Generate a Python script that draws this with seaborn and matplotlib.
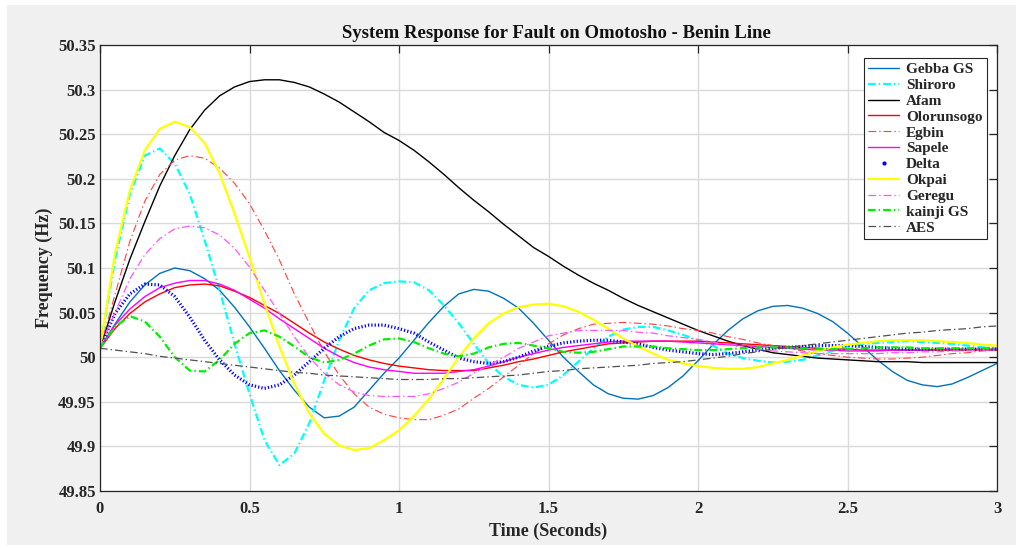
import numpy as np
import pandas as pd
import matplotlib
matplotlib.use("Agg")
import matplotlib.pyplot as plt
from matplotlib.lines import Line2D
from matplotlib.patches import Rectangle
import seaborn as sns

# ---------------- data ----------------
TIME = np.linspace(0.0, 3.0, 61)   # 0.05 s sample grid

GEBBA = [50.010, 50.037, 50.062, 50.081, 50.094, 50.100, 50.097, 50.088, 50.075, 50.056,
         50.034, 50.010, 49.985, 49.963, 49.944, 49.932, 49.934, 49.944, 49.963, 49.982,
         49.999, 50.019, 50.039, 50.057, 50.071, 50.076, 50.074, 50.066, 50.055, 50.038,
         50.019, 50.000, 49.984, 49.969, 49.959, 49.954, 49.953, 49.957, 49.966, 49.979,
         49.996, 50.014, 50.030, 50.043, 50.052, 50.057, 50.058, 50.055, 50.049, 50.040,
         50.027, 50.012, 49.997, 49.984, 49.974, 49.969, 49.967, 49.970, 49.977, 49.985,
         49.993]
SHIRORO = [50.010, 50.109, 50.183, 50.226, 50.234, 50.217, 50.183, 50.131, 50.075, 50.015,
           49.959, 49.907, 49.879, 49.892, 49.926, 49.974, 50.019, 50.055, 50.075, 50.083,
           50.085, 50.084, 50.075, 50.058, 50.038, 50.015, 49.993, 49.978, 49.969, 49.966,
           49.969, 49.980, 49.995, 50.010, 50.023, 50.031, 50.034, 50.034, 50.030, 50.025,
           50.019, 50.013, 50.004, 49.999, 49.996, 49.994, 49.995, 49.997, 50.002, 50.007,
           50.012, 50.015, 50.016, 50.017, 50.018, 50.017, 50.016, 50.015, 50.013, 50.011,
           50.010]
AFAM = [50.010, 50.062, 50.110, 50.152, 50.192, 50.226, 50.255, 50.277, 50.293, 50.303,
        50.309, 50.311, 50.311, 50.308, 50.303, 50.295, 50.286, 50.275, 50.264, 50.252,
        50.243, 50.232, 50.219, 50.205, 50.190, 50.176, 50.163, 50.149, 50.136, 50.123,
        50.113, 50.102, 50.092, 50.083, 50.075, 50.066, 50.058, 50.051, 50.044, 50.037,
        50.030, 50.024, 50.018, 50.013, 50.009, 50.005, 50.003, 50.001, 49.999, 49.998,
        49.997, 49.996, 49.995, 49.995, 49.995, 49.994, 49.994, 49.994, 49.994, 49.994,
        49.994]
OLORUNSOGO = [50.010, 50.032, 50.049, 50.062, 50.071, 50.078, 50.081, 50.082, 50.080, 50.074,
              50.067, 50.058, 50.049, 50.038, 50.027, 50.017, 50.009, 50.002, 49.997, 49.993,
              49.990, 49.988, 49.986, 49.985, 49.985, 49.985, 49.988, 49.991, 49.995, 49.998,
              50.002, 50.006, 50.009, 50.012, 50.015, 50.016, 50.017, 50.018, 50.018, 50.018,
              50.018, 50.017, 50.016, 50.015, 50.014, 50.013, 50.012, 50.011, 50.010, 50.009,
              50.009, 50.008, 50.008, 50.008, 50.008, 50.008, 50.008, 50.008, 50.008, 50.008,
              50.008]
EGBIN = [50.010, 50.070, 50.130, 50.175, 50.205, 50.221, 50.226, 50.223, 50.212, 50.195,
         50.172, 50.142, 50.109, 50.071, 50.038, 50.006, 49.980, 49.959, 49.944, 49.936,
         49.932, 49.930, 49.930, 49.935, 49.942, 49.954, 49.965, 49.978, 49.991, 50.004,
         50.015, 50.025, 50.032, 50.037, 50.038, 50.039, 50.038, 50.037, 50.035, 50.032,
         50.030, 50.027, 50.023, 50.020, 50.016, 50.013, 50.010, 50.007, 50.004, 50.002,
         50.000, 49.999, 49.998, 49.998, 49.999, 50.000, 50.002, 50.004, 50.005, 50.007,
         50.008]
SAPELE = [50.010, 50.036, 50.054, 50.068, 50.078, 50.083, 50.086, 50.086, 50.082, 50.075,
          50.065, 50.055, 50.043, 50.032, 50.021, 50.010, 50.001, 49.994, 49.989, 49.986,
          49.984, 49.982, 49.982, 49.982, 49.984, 49.986, 49.990, 49.995, 50.000, 50.004,
          50.008, 50.011, 50.013, 50.015, 50.017, 50.018, 50.018, 50.018, 50.018, 50.017,
          50.016, 50.015, 50.014, 50.013, 50.012, 50.011, 50.010, 50.009, 50.008, 50.008,
          50.007, 50.007, 50.007, 50.008, 50.008, 50.008, 50.009, 50.009, 50.009, 50.009,
          50.009]
DELTA = [50.010, 50.049, 50.071, 50.082, 50.081, 50.068, 50.045, 50.019, 49.997, 49.980,
         49.969, 49.965, 49.969, 49.980, 49.995, 50.010, 50.023, 50.032, 50.036, 50.036,
         50.032, 50.027, 50.017, 50.008, 49.999, 49.995, 49.993, 49.995, 50.000, 50.007,
         50.012, 50.016, 50.018, 50.019, 50.019, 50.017, 50.015, 50.011, 50.008, 50.006,
         50.004, 50.003, 50.004, 50.006, 50.008, 50.010, 50.011, 50.012, 50.013, 50.013,
         50.013, 50.012, 50.011, 50.010, 50.009, 50.009, 50.009, 50.009, 50.009, 50.009,
         50.009]
OKPAI = [50.010, 50.116, 50.187, 50.232, 50.256, 50.264, 50.258, 50.240, 50.206, 50.161,
         50.112, 50.060, 50.012, 49.970, 49.937, 49.914, 49.901, 49.896, 49.898, 49.907,
         49.918, 49.934, 49.953, 49.976, 50.000, 50.021, 50.038, 50.049, 50.056, 50.059,
         50.060, 50.057, 50.051, 50.042, 50.032, 50.021, 50.012, 50.004, 49.997, 49.993,
         49.990, 49.988, 49.987, 49.987, 49.989, 49.993, 49.997, 50.002, 50.007, 50.011,
         50.014, 50.016, 50.018, 50.019, 50.019, 50.019, 50.018, 50.017, 50.016, 50.014,
         50.013]
GEREGU = [50.010, 50.050, 50.088, 50.115, 50.133, 50.144, 50.147, 50.145, 50.137, 50.122,
          50.101, 50.075, 50.049, 50.023, 50.000, 49.982, 49.969, 49.961, 49.957, 49.956,
          49.956, 49.956, 49.959, 49.965, 49.972, 49.982, 49.991, 50.000, 50.010, 50.017,
          50.024, 50.027, 50.030, 50.030, 50.030, 50.030, 50.028, 50.027, 50.024, 50.022,
          50.020, 50.017, 50.014, 50.011, 50.009, 50.007, 50.006, 50.005, 50.004, 50.004,
          50.004, 50.004, 50.004, 50.005, 50.005, 50.006, 50.006, 50.007, 50.007, 50.008,
          50.008]
KAINJI = [50.010, 50.034, 50.046, 50.040, 50.023, 50.000, 49.985, 49.984, 49.997, 50.015,
          50.027, 50.030, 50.023, 50.012, 50.000, 49.994, 49.997, 50.004, 50.013, 50.020,
          50.021, 50.017, 50.010, 50.004, 50.001, 50.004, 50.011, 50.015, 50.016, 50.013,
          50.010, 50.006, 50.005, 50.006, 50.009, 50.012, 50.012, 50.012, 50.010, 50.009,
          50.008, 50.008, 50.009, 50.010, 50.011, 50.011, 50.011, 50.010, 50.009, 50.009,
          50.009, 50.010, 50.011, 50.011, 50.011, 50.010, 50.010, 50.010, 50.010, 50.010,
          50.010]
AES = [50.010, 50.008, 50.006, 50.004, 50.001, 49.999, 49.997, 49.995, 49.993, 49.991,
       49.989, 49.987, 49.985, 49.983, 49.982, 49.980, 49.979, 49.978, 49.977, 49.976,
       49.975, 49.975, 49.975, 49.976, 49.976, 49.977, 49.978, 49.979, 49.980, 49.982,
       49.984, 49.985, 49.987, 49.988, 49.989, 49.990, 49.991, 49.993, 49.994, 49.995,
       49.997, 49.999, 50.001, 50.004, 50.006, 50.009, 50.011, 50.013, 50.015, 50.017,
       50.019, 50.021, 50.023, 50.025, 50.027, 50.028, 50.030, 50.031, 50.032, 50.034,
       50.035]

NAMES = ["Gebba GS", "Shiroro", "Afam", "Olorunsogo", "Egbin", "Sapele",
         "Delta", "Okpai", "Geregu", "kainji GS", "AES"]
SERIES = [GEBBA, SHIRORO, AFAM, OLORUNSOGO, EGBIN, SAPELE,
          DELTA, OKPAI, GEREGU, KAINJI, AES]

X_TICKS = [0, 0.5, 1, 1.5, 2, 2.5, 3]
X_TICK_LABELS = ["0", "0.5", "1", "1.5", "2", "2.5", "3"]
Y_TICKS = [49.85, 49.9, 49.95, 50.0, 50.05, 50.1, 50.15, 50.2, 50.25, 50.3, 50.35]
Y_TICK_LABELS = ["49.85", "49.9", "49.95", "50", "50.05", "50.1", "50.15",
                 "50.2", "50.25", "50.3", "50.35"]

TITLE = "System Response for Fault on Omotosho - Benin Line"
XLABEL = "Time (Seconds)"
YLABEL = "Frequency (Hz)"

# ---------------- styles ----------------
DASHDOT = (0, (5.5, 2.2, 1.0, 2.2))
STYLES = {
    "Gebba GS":   dict(color="#0072BD", lw=1.0, ls="-"),
    "Shiroro":    dict(color="#00FFFF", lw=1.6, ls=DASHDOT),
    "Afam":       dict(color="#000000", lw=1.0, ls="-"),
    "Olorunsogo": dict(color="#FF0000", lw=1.0, ls="-"),
    "Egbin":      dict(color="#FF4040", lw=0.8, ls=DASHDOT),
    "Sapele":     dict(color="#FF00FF", lw=1.0, ls="-"),
    "Delta":      dict(color="#0000FF", lw=2.3, ls=(0, (0.9, 1.5))),
    "Okpai":      dict(color="#FFFF00", lw=1.6, ls="-"),
    "Geregu":     dict(color="#FF55FF", lw=0.9, ls=DASHDOT),
    "kainji GS":  dict(color="#00EE00", lw=1.6, ls=DASHDOT),
    "AES":        dict(color="#505050", lw=0.9, ls=DASHDOT),
}

# ---------------- figure ----------------
sns.set_theme(style="white")
plt.rcParams["font.family"] = ["Liberation Serif", "DejaVu Serif"]
plt.rcParams["font.weight"] = "bold"
plt.rcParams["lines.scale_dashes"] = False

fig = plt.figure(figsize=(10.16, 5.48), dpi=100)
fig.patch.set_facecolor("white")
fig.add_artist(Rectangle((7 / 1016, 3 / 548), 1 - 7 / 1016, 1 - 8 / 548,
                         transform=fig.transFigure, facecolor="#F0F0F0",
                         edgecolor="none", zorder=-10))
ax = fig.add_axes([100 / 1016, 1 - 491 / 548, 897 / 1016, 446 / 548])
ax.set_facecolor("white")

df = pd.DataFrame({"Time": np.tile(TIME, len(NAMES)),
                   "Frequency": np.concatenate([np.asarray(s) for s in SERIES]),
                   "Station": np.repeat(NAMES, len(TIME))})

for name in NAMES:
    st = STYLES[name]
    sub = df[df["Station"] == name]
    sns.lineplot(data=sub, x="Time", y="Frequency", ax=ax, color=st["color"],
                 linewidth=st["lw"], linestyle=st["ls"], estimator=None,
                 sort=False, legend=False, dash_capstyle="butt")

ax.set_xlim(0, 3)
ax.set_ylim(49.85, 50.35)
ax.set_xticks(X_TICKS)
ax.set_xticklabels(X_TICK_LABELS)
ax.set_yticks(Y_TICKS)
ax.set_yticklabels(Y_TICK_LABELS)
ax.grid(True, color="#DADADA", linewidth=1.0)
ax.set_axisbelow(True)
ax.tick_params(axis="both", direction="in", length=6, width=0.9, color="#262626",
               labelsize=12, top=True, right=True, labelcolor="#262626")
ax.tick_params(axis="y", pad=3)
ax.tick_params(axis="x", pad=7)
for lab in ax.get_xticklabels() + ax.get_yticklabels():
    lab.set_fontweight("bold")
for sp in ax.spines.values():
    sp.set_visible(True)
    sp.set_color("#262626")
    sp.set_linewidth(0.9)

ax.set_title(TITLE, fontsize=13.5, fontweight="bold", pad=5, x=0.509, color="#111111")
ax.set_xlabel(XLABEL, fontsize=13, fontweight="bold", labelpad=4, color="#262626")
ax.set_ylabel(YLABEL, fontsize=13, fontweight="bold", labelpad=4, color="#262626")

handles = []
for name in NAMES:
    st = STYLES[name]
    if name == "Delta":
        handles.append(Line2D([], [], color=st["color"], linestyle="none",
                              marker=".", markersize=4))
    else:
        handles.append(Line2D([], [], color=st["color"], linewidth=st["lw"],
                              linestyle=st["ls"]))
leg = ax.legend(handles, NAMES, loc="upper right",
                bbox_to_anchor=((987 - 100) / 897, (491 - 58) / 446),
                borderaxespad=0, prop={"weight": "bold", "size": 11},
                frameon=True, fancybox=False, edgecolor="#262626",
                framealpha=1, labelspacing=0.14, handlelength=2.0,
                handletextpad=0.45, borderpad=0.3)
leg.get_frame().set_linewidth(0.8)

fig.savefig("out.png", dpi=100, facecolor=fig.get_facecolor())
